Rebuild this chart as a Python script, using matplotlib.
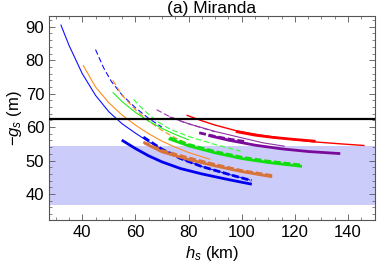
import numpy as np
import matplotlib
matplotlib.use("Agg")
from matplotlib import pyplot as plt
from matplotlib.ticker import MultipleLocator

plt.rcParams['font.family'] = ['Liberation Sans', 'DejaVu Sans']
plt.rcParams['mathtext.fontset'] = 'custom'
plt.rcParams['mathtext.it'] = 'Liberation Sans:italic'
plt.rcParams['mathtext.rm'] = 'Liberation Sans'

# reference level and shaded band
g_ref = 62.4
band_lo, band_hi = 36.8, 54.4

# blue family
blue_thin_x = [32, 35, 40, 45, 50, 55, 60, 65, 70, 77, 85, 95, 103]
blue_thin_y = [90.5, 84.5, 76.0, 69.5, 64.6, 61.0, 58.2, 55.6, 53.4, 50.6, 48.2, 45.9, 44.2]
blue_dash_x = [45, 48, 51, 55, 60, 65, 70]
blue_dash_y = [83.2, 77.8, 73.6, 69.6, 65.8, 62.6, 60.0]
blue_thick_x = [55.3, 60, 65, 70, 77, 85, 95, 103.3]
blue_thick_y = [55.9, 53.6, 51.4, 49.6, 47.6, 46.0, 44.3, 43.0]
blue_thickd_x = [63, 70, 77, 85, 95, 103.7]
blue_thickd_y = [57.0, 53.4, 50.6, 48.2, 45.9, 44.0]

# orange family
orange_thin_x = [40.4, 45, 50, 55, 60, 65, 70, 75, 80, 88]
orange_thin_y = [78.4, 72.0, 67.3, 63.6, 60.6, 58.0, 55.8, 54.0, 52.4, 50.4]
orange_dash_x = [51.5, 55, 60, 65, 70, 75, 80]
orange_dash_y = [74.0, 69.5, 65.2, 61.8, 59.0, 56.8, 55.0]
orange_thick_x = [64, 70, 80, 90, 100, 111]
orange_thick_y = [55.0, 52.6, 50.3, 48.4, 46.7, 45.2]
orange_thickd_x = [63, 70, 80, 90, 100, 111.5]
orange_thickd_y = [55.5, 53.0, 50.8, 48.8, 47.0, 45.5]

# green family
green_thin_x = [51.6, 55, 60, 65, 70, 75, 80]
green_thin_y = [70.3, 67.6, 64.4, 61.8, 59.6, 57.8, 56.2]
green_dash_x = [59.3, 63, 68, 73, 80, 90, 99.6]
green_dash_y = [68.3, 65.2, 61.8, 59.4, 57.2, 54.8, 52.8]
green_thick_x = [73, 80, 90, 100, 110, 122.2]
green_thick_y = [56.4, 54.4, 52.3, 50.6, 49.4, 48.3]
green_thickd_x = [73, 80, 90, 100, 110, 122]
green_thickd_y = [56.8, 54.8, 52.7, 51.0, 49.8, 48.7]

# purple family
purple_dash_x = [68, 72, 78, 84, 90]
purple_dash_y = [65.2, 63.5, 61.5, 60.0, 58.6]
purple_thin_x = [73, 80, 90, 100, 108, 116]
purple_thin_y = [63.0, 61.0, 58.7, 56.8, 55.3, 54.3]
purple_thick_x = [88, 95, 105, 115, 125, 136.6]
purple_thick_y = [57.4, 56.1, 54.6, 53.5, 52.7, 52.1]
purple_thickd_x = [84, 90, 96, 102]
purple_thickd_y = [58.3, 57.2, 56.3, 55.6]

# red family
red_thin_x = [79.5, 85, 90, 98, 107, 117, 127, 137, 146]
red_thin_y = [63.5, 61.9, 60.6, 58.9, 57.6, 56.5, 55.6, 55.0, 54.5]
red_thick_x = [98.3, 105, 112, 120, 127.3]
red_thick_y = [58.6, 57.6, 56.9, 56.3, 55.8]

fig = plt.figure(figsize=(3.8, 2.73), dpi=100)
ax = fig.add_axes([0.129, 0.194, 0.858, 0.747])

ax.axhspan(band_lo, band_hi, color='#ccccfa', lw=0, zorder=0)
ax.axhline(g_ref, color='black', lw=1.6, zorder=5)

thin = 0.8
thick = 2.0
dthin = (5, 2.5)
dthick = (2.5, 1)

# blue
ax.plot(blue_thin_x, blue_thin_y, color='#1010ff', lw=thin)
ax.plot(blue_dash_x, blue_dash_y, color='#1010ff', lw=thin, dashes=dthin)
ax.plot(blue_thick_x, blue_thick_y, color='#0000ee', lw=thick)
ax.plot(blue_thickd_x, blue_thickd_y, color='#0000ee', lw=thick, dashes=dthick)

# orange
ax.plot(orange_thin_x, orange_thin_y, color='#ff8c1a', lw=thin)
ax.plot(orange_dash_x, orange_dash_y, color='#ff8c1a', lw=thin, dashes=dthin)
ax.plot(orange_thick_x, orange_thick_y, color='#d8733a', lw=thick)
ax.plot(orange_thickd_x, orange_thickd_y, color='#d8733a', lw=thick, dashes=dthick)

# green
ax.plot(green_thin_x, green_thin_y, color='#22ee22', lw=thin)
ax.plot(green_dash_x, green_dash_y, color='#33ff33', lw=thin, dashes=dthin)
ax.plot(green_thick_x, green_thick_y, color='#11dd11', lw=thick)
ax.plot(green_thickd_x, green_thickd_y, color='#11dd11', lw=thick, dashes=dthick)

# purple
ax.plot(purple_dash_x, purple_dash_y, color='#a030b0', lw=thin, dashes=dthin)
ax.plot(purple_thin_x, purple_thin_y, color='#9030a8', lw=thin)
ax.plot(purple_thick_x, purple_thick_y, color='#7a0a9a', lw=thick)
ax.plot(purple_thickd_x, purple_thickd_y, color='#7a0a9a', lw=thick, dashes=dthick)

# red
ax.plot(red_thin_x, red_thin_y, color='red', lw=1.0)
ax.plot(red_thick_x, red_thick_y, color='red', lw=thick)

ax.set_xlim(27.5, 150.2)
ax.set_ylim(32.2, 93.2)
ax.xaxis.set_major_locator(MultipleLocator(20))
ax.xaxis.set_minor_locator(MultipleLocator(5))
ax.yaxis.set_major_locator(MultipleLocator(10))
ax.yaxis.set_minor_locator(MultipleLocator(2))
ax.tick_params(which='both', direction='in', top=True, right=True,
               color='#555555', labelsize=12)
ax.tick_params(which='major', length=4, width=0.6)
ax.tick_params(which='minor', length=2, width=0.5)
for s in ax.spines.values():
    s.set_color('#555555')
    s.set_linewidth(0.8)

ax.set_xlabel(r'$h_s$ (km)', fontsize=12, labelpad=3)
ax.set_ylabel(r'$-g_s$ (m)', fontsize=12, labelpad=1)
ax.set_title('(a) Miranda', fontsize=12.5, pad=0)

fig.savefig('out.png', dpi=100)
